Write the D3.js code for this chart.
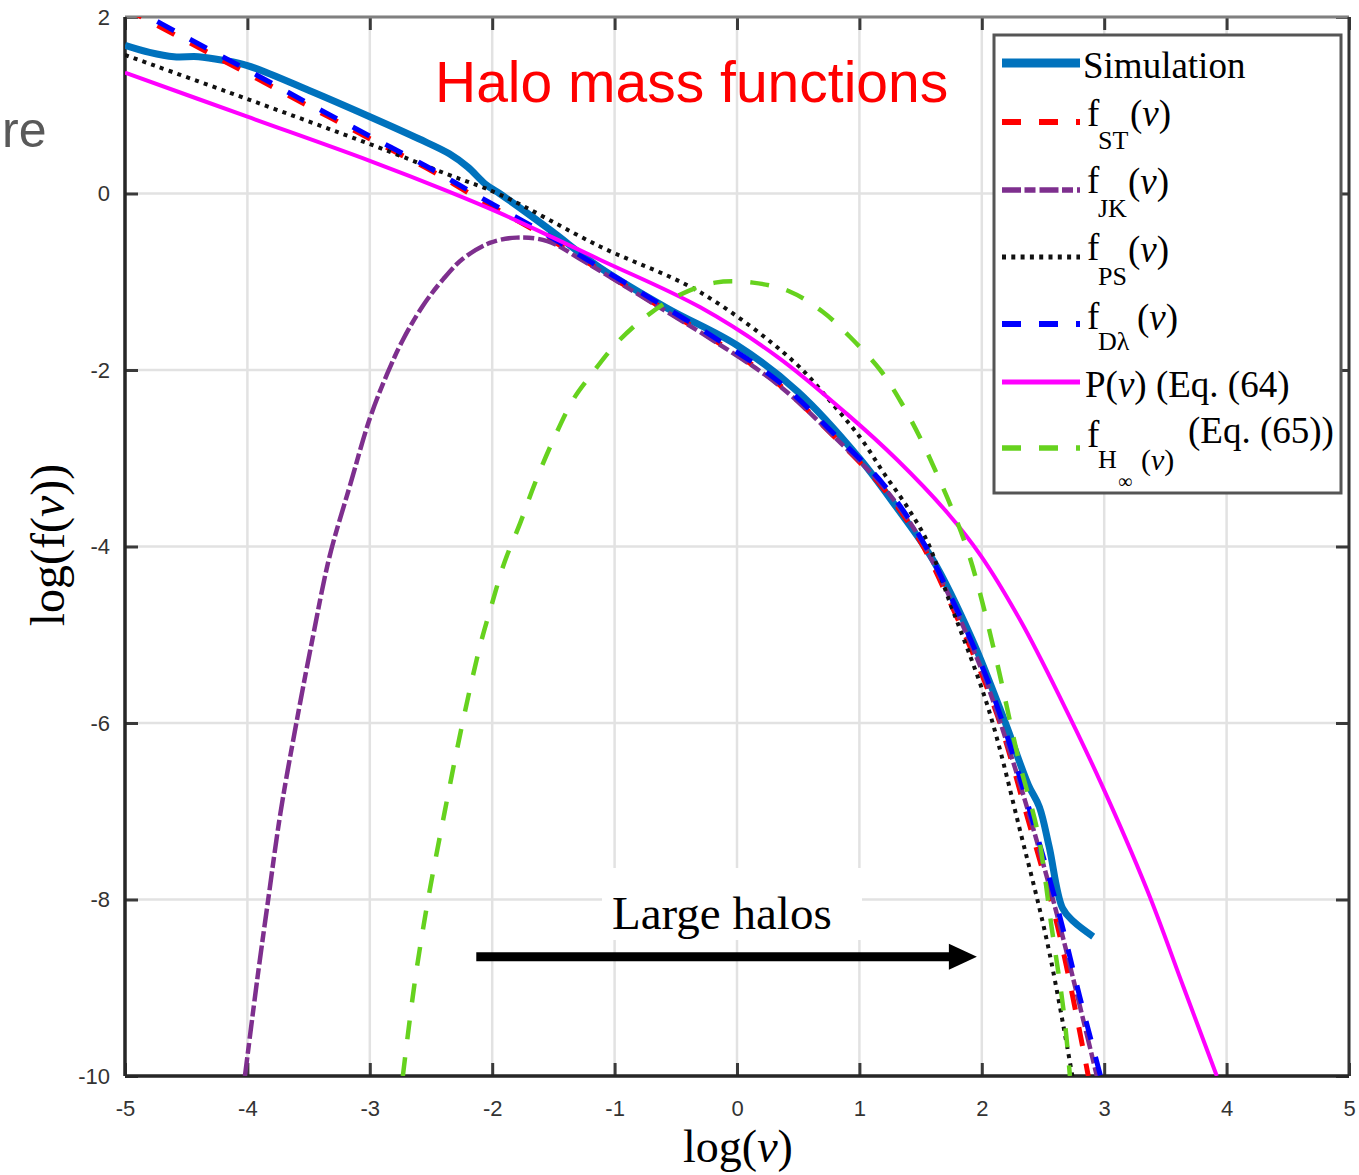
<!DOCTYPE html>
<html>
<head>
<meta charset="utf-8">
<script src="https://cdn.jsdelivr.net/npm/d3@7"></script>
<style>
  body { margin: 0; background: #fff; }
</style>
</head>
<body>
<script>
// Tick values
var xTicks = [-5, -4, -3, -2, -1, 0, 1, 2, 3, 4, 5];
var yTicks = [2, 0, -2, -4, -6, -8, -10];

// Curves, [log(nu), log(f(nu))]
var simulation = [[-5,1.68],[-4.8,1.6],[-4.6,1.55],[-4.4,1.55],[-4.2,1.51],[-4,1.45],[-3.5,1.17],[-3,0.87],[-2.6,0.62],[-2.35,0.45],[-2.2,0.3],[-2.05,0.1],[-1.94,0.0],[-1.53,-0.41],[-1.12,-0.84],[-0.57,-1.3],[0,-1.72],[0.5,-2.25],[1.0,-3.0],[1.3,-3.55],[1.6,-4.15],[1.92,-5.05],[2.19,-5.99],[2.38,-6.7],[2.47,-6.95],[2.55,-7.4],[2.66,-8.1],[2.75,-8.25],[2.91,-8.42]];
var fST = [[-5,2.1],[-4.5,1.73],[-4,1.36],[-3.5,0.99],[-3,0.62],[-2.5,0.26],[-2.1,-0.07],[-1.55,-0.5],[-1.26,-0.75],[-0.74,-1.19],[-0.2,-1.65],[0.33,-2.15],[0.79,-2.75],[1.2,-3.35],[1.5,-3.95],[1.73,-4.6],[2.0,-5.45],[2.16,-6.05],[2.35,-6.96],[2.62,-8.31],[2.87,-10]];
var fJK = [[-4.02,-10],[-3.92,-8.91],[-3.83,-8.0],[-3.73,-7.02],[-3.6,-6.0],[-3.47,-5.06],[-3.33,-4.12],[-3.16,-3.3],[-3.0,-2.55],[-2.86,-2.05],[-2.73,-1.66],[-2.57,-1.28],[-2.4,-0.97],[-2.24,-0.74],[-2.02,-0.56],[-1.8,-0.5],[-1.55,-0.54],[-1.26,-0.76],[-0.74,-1.2],[-0.2,-1.66],[0.33,-2.16],[0.79,-2.75],[1.2,-3.33],[1.5,-3.92],[1.73,-4.55],[2.0,-5.4],[2.2,-6.2],[2.4,-7.1],[2.62,-8.2],[2.8,-9.2],[2.94,-10]];
var fPS = [[-5,1.57],[-4,1.07],[-3,0.56],[-2.37,0.22],[-1.94,-0.01],[-1.12,-0.6],[-0.3,-1.12],[0.46,-1.9],[0.79,-2.4],[1.02,-2.79],[1.2,-3.17],[1.39,-3.55],[1.56,-3.96],[1.73,-4.6],[2.05,-5.82],[2.32,-7.26],[2.54,-8.52],[2.74,-10]];
var fDL = [[-5,2.15],[-4.5,1.77],[-4,1.4],[-3.5,1.02],[-3,0.65],[-2.5,0.28],[-2.1,-0.04],[-1.55,-0.47],[-1.26,-0.72],[-0.74,-1.16],[-0.2,-1.62],[0.33,-2.12],[0.79,-2.72],[1.2,-3.3],[1.5,-3.9],[1.73,-4.52],[2.0,-5.35],[2.16,-5.95],[2.35,-6.8],[2.62,-8.1],[2.8,-9.1],[2.97,-10]];
var pNu = [[-5,1.37],[-4,0.87],[-3,0.37],[-2.37,0.03],[-1.94,-0.22],[-1.12,-0.75],[-0.3,-1.29],[0.33,-1.85],[0.9,-2.5],[1.31,-3.02],[1.72,-3.62],[1.99,-4.1],[2.32,-4.85],[2.65,-5.74],[2.97,-6.67],[3.35,-7.89],[3.65,-9.0],[3.92,-10]];
var fHinf = [[-2.73,-10],[-2.63,-8.91],[-2.52,-7.97],[-2.39,-7.02],[-2.25,-6.05],[-2.1,-5.13],[-2.0,-4.64],[-1.9,-4.18],[-1.77,-3.73],[-1.65,-3.28],[-1.5,-2.79],[-1.34,-2.34],[-1.2,-2.07],[-0.98,-1.69],[-0.74,-1.39],[-0.47,-1.15],[-0.18,-1.01],[0.13,-1.01],[0.43,-1.11],[0.7,-1.34],[0.92,-1.62],[1.17,-2.0],[1.33,-2.34],[1.49,-2.75],[1.64,-3.2],[1.77,-3.62],[1.88,-4.03],[1.97,-4.45],[2.13,-5.35],[2.30,-6.41],[2.46,-7.26],[2.57,-8.31],[2.67,-9.28],[2.72,-10]];

// Arrow annotation (data coordinates)
var arrowFrom = [-2.13, -8.65];
var arrowTo = [1.96, -8.65];

// SVG
var svgWidth = 1359, svgHeight = 1175;
var svg = d3.select("body").append("svg")
  .attr("width", svgWidth)
  .attr("height", svgHeight);

var plot = { left: 125, right: 1349, top: 17, bottom: 1076 };

var xScale = d3.scaleLinear().domain([-5, 5]).range([plot.left, plot.right]);
var yScale = d3.scaleLinear().domain([-10, 2]).range([plot.bottom, plot.top]);

svg.append("defs").append("clipPath").attr("id", "clip")
  .append("rect")
  .attr("x", plot.left).attr("y", plot.top)
  .attr("width", plot.right - plot.left).attr("height", plot.bottom - plot.top);

// Grid
var grid = svg.append("g").attr("class", "grid");
grid.selectAll(".gx").data(xTicks).enter().append("line")
  .attr("x1", d => xScale(d)).attr("x2", d => xScale(d))
  .attr("y1", plot.top).attr("y2", plot.bottom)
  .attr("stroke", "#e2e2e2").attr("stroke-width", 2.5);
grid.selectAll(".gy").data(yTicks).enter().append("line")
  .attr("x1", plot.left).attr("x2", plot.right)
  .attr("y1", d => yScale(d)).attr("y2", d => yScale(d))
  .attr("stroke", "#e2e2e2").attr("stroke-width", 2.5);

// Axes (ticks inside)
var tickFont = "'Liberation Sans', Arial, sans-serif";
var xAxis = d3.axisBottom(xScale).tickValues(xTicks).tickSize(-13).tickPadding(24).tickFormat(d => String(d));
var yAxis = d3.axisLeft(yScale).tickValues(yTicks).tickSize(-13).tickPadding(15).tickFormat(d => String(d));

var gx = svg.append("g").attr("transform", `translate(0, ${plot.bottom})`).call(xAxis);
var gy = svg.append("g").attr("transform", `translate(${plot.left}, 0)`).call(yAxis);
svg.append("g").attr("transform", `translate(0, ${plot.top})`)
  .call(d3.axisTop(xScale).tickValues(xTicks).tickSize(-13).tickFormat(""));
svg.append("g").attr("transform", `translate(${plot.right}, 0)`)
  .call(d3.axisRight(yScale).tickValues(yTicks).tickSize(-13).tickFormat(""));

svg.selectAll(".domain").remove();
svg.selectAll(".tick line").attr("stroke", "#3a3a3a").attr("stroke-width", 3);
svg.selectAll(".tick text")
  .attr("fill", "#333")
  .style("font-family", tickFont)
  .style("font-size", "22px");

// Frame
svg.append("line").attr("x1", plot.left).attr("x2", plot.right).attr("y1", plot.top).attr("y2", plot.top)
  .attr("stroke", "#808080").attr("stroke-width", 3);
svg.append("line").attr("x1", plot.right).attr("x2", plot.right).attr("y1", plot.top).attr("y2", plot.bottom)
  .attr("stroke", "#333").attr("stroke-width", 3);
svg.append("line").attr("x1", plot.left).attr("x2", plot.right).attr("y1", plot.bottom).attr("y2", plot.bottom)
  .attr("stroke", "#262626").attr("stroke-width", 3.5);
svg.append("line").attr("x1", plot.left).attr("x2", plot.left).attr("y1", plot.top).attr("y2", plot.bottom)
  .attr("stroke", "#262626").attr("stroke-width", 3.5);

// Curves
var series = [
  { data: simulation, color: "#0072BD", width: 7, dash: null },
  { data: fST, color: "#FF0000", width: 5, dash: "19,18" },
  { data: fJK, color: "#7E2F8E", width: 4.5, dash: "19,3.5,11,4" },
  { data: fPS, color: "#111111", width: 4, dash: "4,5.3" },
  { data: fDL, color: "#0000FF", width: 5, dash: "19,18" },
  { data: pNu, color: "#FF00FF", width: 4, dash: null },
  { data: fHinf, color: "#66D21E", width: 4.5, dash: "19,18" }
];

var line = d3.line()
  .x(d => xScale(d[0]))
  .y(d => yScale(d[1]))
  .curve(d3.curveCatmullRom.alpha(0.5));

var curves = svg.append("g").attr("clip-path", "url(#clip)");
series.forEach(function(s) {
  curves.append("path")
    .datum(s.data)
    .attr("d", line)
    .attr("fill", "none")
    .attr("stroke", s.color)
    .attr("stroke-width", s.width)
    .attr("stroke-dasharray", s.dash)
    .attr("stroke-linejoin", "round");
});

// Large halos annotation
var serif = "'Liberation Serif', 'Times New Roman', serif";
svg.append("rect")
  .attr("x", 602).attr("y", 868).attr("width", 260).attr("height", 72)
  .attr("fill", "#fff");
svg.append("text")
  .attr("x", 612).attr("y", 929)
  .style("font-family", serif).style("font-size", "47px")
  .text("Large halos");

var ax1 = xScale(arrowFrom[0]), ax2 = xScale(arrowTo[0]), ay = yScale(arrowTo[1]);
svg.append("line")
  .attr("x1", ax1).attr("x2", ax2 - 25).attr("y1", ay).attr("y2", ay)
  .attr("stroke", "#000").attr("stroke-width", 9);
svg.append("path")
  .attr("d", `M${ax2},${ay} L${ax2 - 28},${ay - 13} L${ax2 - 28},${ay + 13} Z`)
  .attr("fill", "#000");

// Axis labels
svg.append("text")
  .attr("x", 738).attr("y", 1162)
  .attr("text-anchor", "middle")
  .style("font-family", serif).style("font-size", "46px")
  .html("log(<tspan font-style='italic'>ν</tspan>)");
svg.append("text")
  .attr("transform", "translate(64, 545) rotate(-90)")
  .attr("text-anchor", "middle")
  .style("font-family", serif).style("font-size", "48px")
  .html("log(f(<tspan font-style='italic'>ν</tspan>))");

// Title and the slide text at the left edge
svg.append("text")
  .attr("x", 435).attr("y", 102)
  .attr("fill", "#FF0000")
  .style("font-family", "'Liberation Sans', Arial, sans-serif").style("font-size", "57px")
  .text("Halo mass functions");
svg.append("text")
  .attr("x", 2).attr("y", 147)
  .attr("fill", "#595959")
  .style("font-family", "'Liberation Sans', Arial, sans-serif").style("font-size", "50px")
  .text("re");

// Legend
var legend = svg.append("g");
legend.append("rect")
  .attr("x", 994).attr("y", 35).attr("width", 347).attr("height", 458)
  .attr("fill", "#fff").attr("stroke", "#555").attr("stroke-width", 3);

var sampleY = [63, 122, 190, 257, 324, 382, 448];
series.forEach(function(s, i) {
  legend.append("line")
    .attr("x1", 1002).attr("x2", 1080)
    .attr("y1", sampleY[i]).attr("y2", sampleY[i])
    .attr("stroke", s.color)
    .attr("stroke-width", i === 0 ? 9 : s.width + 1)
    .attr("stroke-dasharray", s.dash);
});

function legText(x, y, size, html) {
  legend.append("text")
    .attr("x", x).attr("y", y)
    .style("font-family", serif).style("font-size", size + "px")
    .html(html);
}
var nu = "(<tspan font-style='italic'>ν</tspan>)";
legText(1083, 78, 37, "Simulation");
legText(1087, 126, 37, "f"); legText(1098, 149, 26, "ST"); legText(1130, 126, 37, nu);
legText(1087, 193, 37, "f"); legText(1098, 217, 26, "JK"); legText(1128, 194, 37, nu);
legText(1087, 260, 37, "f"); legText(1098, 285, 26, "PS"); legText(1128, 262, 37, nu);
legText(1087, 329, 37, "f"); legText(1098, 350, 26, "Dλ"); legText(1137, 330, 37, nu);
legText(1085, 397, 37, "P" + nu + " (Eq. (64)");
legText(1087, 447, 37, "f"); legText(1098, 468, 26, "H"); legText(1118, 488, 20, "∞");
legText(1141, 470, 30, nu); legText(1188, 443, 37, "(Eq. (65))");
</script>
</body>
</html>
